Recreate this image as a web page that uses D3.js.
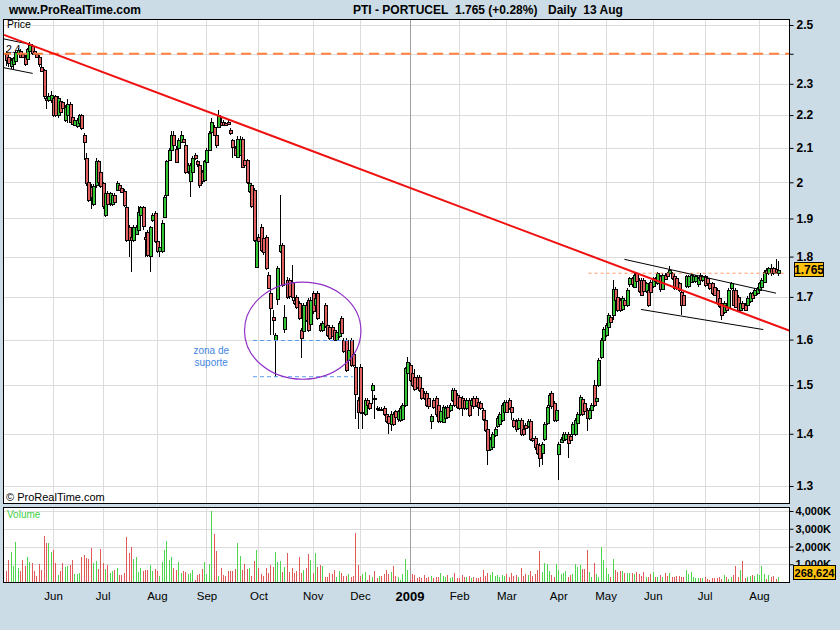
<!DOCTYPE html>
<html><head><meta charset="utf-8">
<script src="https://cdn.jsdelivr.net/npm/d3@7"></script>
<style>body{margin:0;background:#cbdce6;}svg{display:block;font-family:"Liberation Sans",Arial,sans-serif;}</style>
</head><body><svg id="c" width="840" height="630"></svg>
<script>
// Daily candles, PTI - PORTUCEL, 5 May 2008 .. 13 Aug 2009 (index = trading day)
const open=[
2.400,2.390,2.360,2.365,2.375,2.400,2.410,2.400,2.390,2.380,
2.410,2.425,2.410,2.400,2.390,2.357,2.345,2.255,2.248,2.250,
2.255,2.260,2.200,2.245,2.240,2.185,2.200,2.235,2.195,2.170,
2.165,2.175,2.200,2.140,2.070,2.000,1.988,1.940,1.990,2.060,
2.030,1.997,1.910,1.970,1.940,1.940,1.965,1.978,1.993,1.985,
1.975,1.932,1.878,1.850,1.843,1.860,1.870,1.909,1.930,1.850,
1.865,1.800,1.896,1.915,1.840,1.815,1.815,1.905,1.964,2.064,
2.094,2.139,2.098,2.100,2.120,2.128,2.109,2.032,2.005,2.030,
2.080,2.060,2.050,2.030,2.005,2.060,2.094,2.150,2.164,2.139,
2.164,2.180,2.180,2.175,2.180,2.155,2.124,2.100,2.075,2.080,
2.128,2.064,2.064,1.975,1.992,1.978,1.775,1.850,1.878,1.847,
1.850,1.754,1.710,1.653,1.599,1.693,1.815,1.830,1.625,1.741,
1.740,1.737,1.693,1.700,1.685,1.622,1.620,1.680,1.693,1.637,
1.709,1.681,1.709,1.634,1.622,1.680,1.634,1.630,1.630,1.622,
1.600,1.608,1.649,1.599,1.599,1.554,1.599,1.568,1.540,1.469,
1.540,1.440,1.440,1.469,1.462,1.490,1.472,1.452,1.450,1.450,
1.452,1.440,1.435,1.420,1.440,1.445,1.428,1.428,1.430,1.458,
1.527,1.543,1.525,1.518,1.518,1.518,1.493,1.483,1.483,1.472,
1.425,1.469,1.472,1.458,1.425,1.425,1.432,1.455,1.448,1.469,
1.490,1.479,1.475,1.472,1.469,1.452,1.469,1.458,1.472,1.472,
1.465,1.462,1.448,1.428,1.410,1.370,1.375,1.398,1.415,1.420,
1.428,1.445,1.465,1.469,1.455,1.428,1.425,1.412,1.428,1.410,
1.418,1.415,1.425,1.392,1.392,1.380,1.378,1.362,1.390,1.422,
1.458,1.483,1.462,1.428,1.360,1.385,1.388,1.390,1.400,1.395,
1.400,1.400,1.422,1.440,1.470,1.462,1.448,1.432,1.448,1.500,
1.465,1.500,1.560,1.600,1.610,1.630,1.652,1.657,1.720,1.700,
1.693,1.670,1.693,1.680,1.729,1.745,1.725,1.758,1.741,1.741,
1.741,1.713,1.717,1.737,1.725,1.745,1.733,1.750,1.720,1.754,
1.758,1.758,1.758,1.750,1.745,1.733,1.713,1.705,1.725,1.725,
1.737,1.737,1.737,1.729,1.754,1.741,1.750,1.745,1.733,1.733,
1.725,1.717,1.697,1.685,1.663,1.681,1.677,1.721,1.717,1.717,
1.700,1.669,1.685,1.681,1.681,1.690,1.709,1.705,1.709,1.717,
1.725,1.737,1.766,1.758,1.770,1.770,1.768,1.758];
const high=[
2.410,2.395,2.385,2.390,2.410,2.420,2.415,2.405,2.395,2.420,
2.440,2.435,2.415,2.405,2.395,2.370,2.350,2.262,2.270,2.275,
2.260,2.265,2.260,2.250,2.245,2.232,2.250,2.240,2.200,2.190,
2.190,2.205,2.205,2.145,2.085,2.005,1.995,1.995,2.070,2.065,
2.035,2.000,1.975,1.975,1.972,1.968,1.970,2.005,1.998,1.990,
1.980,1.935,1.882,1.855,1.882,1.882,1.935,1.935,1.935,1.865,
1.870,1.880,1.915,1.920,1.845,1.830,1.895,1.965,2.065,2.100,
2.150,2.150,2.105,2.130,2.150,2.135,2.115,2.055,2.055,2.075,
2.085,2.065,2.055,2.035,2.065,2.100,2.150,2.190,2.170,2.145,
2.215,2.190,2.185,2.180,2.185,2.160,2.128,2.105,2.135,2.135,
2.132,2.068,2.068,2.002,1.998,1.985,1.848,1.858,1.885,1.852,
1.855,1.760,1.733,1.669,1.615,1.776,1.964,1.835,1.680,1.748,
1.745,1.779,1.698,1.705,1.690,1.626,1.685,1.688,1.698,1.700,
1.715,1.702,1.714,1.638,1.642,1.685,1.638,1.634,1.634,1.626,
1.622,1.642,1.654,1.603,1.604,1.581,1.604,1.572,1.545,1.474,
1.545,1.446,1.472,1.473,1.466,1.505,1.480,1.456,1.454,1.454,
1.456,1.444,1.439,1.445,1.444,1.449,1.449,1.456,1.462,1.540,
1.560,1.547,1.530,1.535,1.522,1.522,1.497,1.487,1.487,1.476,
1.439,1.473,1.476,1.462,1.449,1.459,1.456,1.459,1.462,1.494,
1.494,1.483,1.479,1.476,1.473,1.473,1.473,1.473,1.476,1.476,
1.469,1.466,1.452,1.432,1.414,1.394,1.404,1.414,1.436,1.444,
1.462,1.469,1.469,1.473,1.459,1.432,1.429,1.432,1.432,1.414,
1.422,1.429,1.429,1.396,1.396,1.384,1.382,1.384,1.424,1.459,
1.483,1.487,1.466,1.452,1.384,1.394,1.404,1.404,1.404,1.399,
1.424,1.432,1.444,1.479,1.474,1.466,1.452,1.452,1.462,1.511,
1.476,1.559,1.603,1.629,1.638,1.661,1.656,1.741,1.724,1.704,
1.697,1.701,1.697,1.721,1.749,1.749,1.758,1.762,1.745,1.745,
1.745,1.737,1.721,1.741,1.749,1.749,1.762,1.754,1.758,1.758,
1.762,1.775,1.762,1.754,1.749,1.737,1.717,1.709,1.754,1.754,
1.758,1.754,1.754,1.749,1.758,1.754,1.754,1.749,1.737,1.737,
1.729,1.721,1.701,1.689,1.689,1.685,1.721,1.737,1.721,1.721,
1.704,1.689,1.689,1.685,1.701,1.713,1.713,1.721,1.725,1.737,
1.745,1.766,1.770,1.774,1.780,1.774,1.795,1.790];
const low=[
2.360,2.355,2.350,2.345,2.370,2.395,2.385,2.385,2.360,2.375,
2.405,2.395,2.395,2.385,2.357,2.340,2.250,2.220,2.240,2.237,
2.195,2.195,2.190,2.205,2.215,2.180,2.175,2.175,2.168,2.165,
2.160,2.170,2.155,2.064,1.990,1.945,1.925,1.935,1.985,1.995,
1.985,1.925,1.905,1.935,1.935,1.935,1.940,1.975,1.975,1.970,
1.930,1.838,1.800,1.760,1.838,1.855,1.861,1.905,1.870,1.800,
1.800,1.760,1.890,1.835,1.810,1.800,1.810,1.900,1.960,2.060,
2.090,2.100,2.055,2.095,2.115,2.115,2.025,2.025,1.960,2.025,
2.065,2.045,1.985,1.995,2.000,2.055,2.090,2.145,2.135,2.100,
2.160,2.165,2.165,2.165,2.170,2.140,2.070,2.075,2.070,2.075,
2.040,2.045,1.995,1.970,1.928,1.838,1.770,1.835,1.812,1.805,
1.765,1.718,1.611,1.611,1.518,1.680,1.810,1.724,1.615,1.695,
1.695,1.690,1.680,1.672,1.645,1.558,1.615,1.640,1.618,1.632,
1.660,1.676,1.644,1.618,1.618,1.626,1.606,1.600,1.606,1.596,
1.596,1.604,1.611,1.570,1.528,1.550,1.538,1.538,1.430,1.410,
1.440,1.410,1.436,1.455,1.448,1.460,1.430,1.446,1.446,1.445,
1.436,1.421,1.400,1.405,1.416,1.428,1.424,1.424,1.426,1.454,
1.523,1.506,1.495,1.488,1.492,1.486,1.468,1.468,1.454,1.451,
1.410,1.451,1.434,1.421,1.421,1.421,1.428,1.431,1.444,1.465,
1.454,1.451,1.448,1.435,1.448,1.448,1.434,1.454,1.451,1.454,
1.435,1.448,1.426,1.404,1.339,1.366,1.371,1.394,1.411,1.416,
1.424,1.441,1.441,1.448,1.428,1.411,1.404,1.408,1.396,1.396,
1.408,1.411,1.386,1.384,1.368,1.358,1.335,1.339,1.386,1.418,
1.454,1.451,1.424,1.424,1.311,1.381,1.384,1.386,1.352,1.384,
1.396,1.396,1.418,1.436,1.436,1.441,1.405,1.428,1.444,1.454,
1.461,1.496,1.556,1.596,1.606,1.626,1.636,1.645,1.689,1.665,
1.665,1.666,1.676,1.676,1.725,1.725,1.721,1.733,1.709,1.701,
1.709,1.709,1.675,1.709,1.721,1.733,1.729,1.713,1.716,1.741,
1.746,1.754,1.741,1.716,1.716,1.713,1.657,1.677,1.721,1.721,
1.733,1.733,1.733,1.725,1.737,1.737,1.725,1.729,1.717,1.705,
1.701,1.681,1.673,1.645,1.659,1.665,1.673,1.717,1.677,1.673,
1.665,1.665,1.669,1.666,1.677,1.686,1.693,1.701,1.705,1.713,
1.721,1.733,1.754,1.754,1.750,1.754,1.756,1.752];
const close=[
2.380,2.370,2.380,2.385,2.405,2.413,2.390,2.390,2.368,2.415,
2.430,2.400,2.400,2.390,2.368,2.345,2.259,2.250,2.260,2.265,
2.200,2.200,2.255,2.210,2.220,2.227,2.235,2.180,2.174,2.185,
2.185,2.200,2.160,2.120,1.997,1.950,1.960,1.990,2.060,2.000,
1.990,1.932,1.970,1.940,1.969,1.965,1.945,1.998,1.978,1.975,
1.936,1.843,1.843,1.843,1.878,1.878,1.918,1.930,1.878,1.845,
1.805,1.876,1.909,1.840,1.815,1.825,1.888,1.960,2.060,2.094,
2.139,2.109,2.060,2.124,2.140,2.120,2.030,2.050,2.050,2.070,
2.070,2.050,1.992,2.003,2.060,2.094,2.144,2.180,2.139,2.109,
2.200,2.170,2.170,2.170,2.175,2.145,2.104,2.080,2.128,2.128,
2.045,2.050,2.000,1.997,1.933,1.843,1.843,1.840,1.817,1.810,
1.770,1.723,1.673,1.645,1.611,1.770,1.830,1.729,1.652,1.700,
1.700,1.700,1.685,1.677,1.649,1.603,1.680,1.645,1.622,1.693,
1.665,1.697,1.649,1.622,1.638,1.630,1.611,1.605,1.610,1.600,
1.618,1.638,1.615,1.574,1.533,1.577,1.543,1.543,1.483,1.445,
1.445,1.443,1.469,1.458,1.452,1.500,1.470,1.450,1.450,1.449,
1.440,1.425,1.420,1.440,1.420,1.432,1.445,1.452,1.458,1.536,
1.550,1.511,1.500,1.493,1.497,1.490,1.472,1.472,1.458,1.455,
1.435,1.455,1.438,1.425,1.445,1.455,1.452,1.435,1.458,1.490,
1.458,1.455,1.452,1.452,1.452,1.469,1.438,1.469,1.455,1.458,
1.455,1.452,1.430,1.408,1.368,1.390,1.400,1.410,1.432,1.440,
1.458,1.465,1.445,1.452,1.445,1.415,1.408,1.428,1.400,1.400,
1.412,1.425,1.390,1.388,1.375,1.362,1.352,1.380,1.420,1.455,
1.479,1.455,1.428,1.448,1.380,1.390,1.400,1.400,1.382,1.388,
1.420,1.428,1.440,1.475,1.440,1.445,1.432,1.448,1.458,1.458,
1.472,1.555,1.599,1.625,1.634,1.657,1.640,1.720,1.693,1.669,
1.669,1.697,1.680,1.717,1.745,1.729,1.754,1.737,1.713,1.705,
1.713,1.733,1.681,1.713,1.745,1.737,1.758,1.717,1.754,1.745,
1.750,1.766,1.745,1.720,1.720,1.717,1.681,1.681,1.750,1.750,
1.754,1.750,1.750,1.745,1.741,1.750,1.729,1.733,1.721,1.709,
1.705,1.685,1.677,1.657,1.685,1.669,1.717,1.733,1.681,1.677,
1.669,1.685,1.673,1.670,1.697,1.709,1.697,1.717,1.721,1.733,
1.741,1.762,1.758,1.770,1.758,1.758,1.760,1.765];
// volume in thousands of shares
const volume=[
640,1243,1714,904,2279,810,621,1243,904,1394,
1130,1073,640,339,1017,678,2600,2200,2200,1714,
1827,1073,395,640,1073,866,904,960,1243,452,
452,508,1431,1506,1375,1318,1921,1073,1186,734,
1864,1073,734,960,508,640,678,791,395,395,
508,2540,1657,1977,1299,1412,584,810,640,678,
678,960,640,734,640,339,1130,1808,2316,1243,
1412,810,697,1130,508,621,584,452,508,678,
113,395,452,734,1130,452,1017,4011,2712,1751,
339,791,395,339,621,621,621,734,2203,1469,
678,1017,753,791,339,1186,1808,791,452,320,
791,508,960,847,1695,1130,1186,565,847,1639,
565,791,508,621,1412,508,678,791,1582,1243,
508,1639,847,960,904,282,282,508,452,678,
301,621,508,339,339,452,282,339,2768,960,
339,452,565,113,395,264,640,207,339,339,
452,678,452,565,904,339,282,113,452,1299,
678,113,452,395,226,300,250,380,200,280,
350,250,300,260,508,320,300,380,250,300,
508,220,250,420,300,260,350,220,300,250,
200,280,678,350,500,420,565,350,420,300,
380,320,450,282,500,350,420,300,790,330,
450,380,600,330,450,678,1751,560,1073,1017,
600,420,300,1017,678,450,520,620,280,400,
450,1017,850,960,720,730,1808,560,280,1073,
450,280,1977,1243,790,450,280,1300,680,560,
620,620,500,500,480,500,450,560,450,350,
560,280,300,450,560,300,300,420,300,480,
350,500,280,300,330,350,300,280,678,450,
560,300,200,220,220,220,300,150,120,200,
220,220,280,180,380,300,160,300,380,904,
300,650,1186,250,300,340,400,330,460,380,
904,460,180,400,260,340,180,269];
// month axis: label and index of first trading day
const monthLabels=["Jun","Jul","Aug","Sep","Oct","Nov","Dec","2009","Feb","Mar","Apr","May","Jun","Jul","Aug"];
const monthIdx=[20,41,64,85,107,130,150,171,192,212,234,254,274,296,319];
const priceTicks=[1.3,1.4,1.5,1.6,1.7,1.8,1.9,2.0,2.1,2.2,2.3,2.4,2.5];
const priceLabels=["1.3","1.4","1.5","1.6","1.7","1.8","1.9","2","2.1","2.2","2.3","","2.5"];
const volTicks=[1000,2000,3000,4000];
const volLabels=["1,000K","2,000K","3,000K","4,000K"];
const lastPrice=1.765, lastPriceText="1.765", lastVolText="268,624";
// drawn objects (index, price)
const trendLine=[[-0.76,2.465],[332.1,1.620]];
const resistance=2.4;
const prevLevel=[[246.8,1.758],[330.0,1.758]];
const channelTop=[[262.0,1.793],[326.2,1.709]];
const channelBottom=[[269.0,1.670],[320.8,1.623]];
const earlyTop=[[-0.76,2.451],[11.1,2.431]];
const earlyBottom=[[-0.76,2.353],[11.4,2.334]];
const supportHi=[[104.7,1.598],[147.0,1.598]];
const supportLo=[[104.7,1.518],[147.0,1.518]];
const ellipseBox={i0:101.1,i1:150.4,p0:1.5125,p1:1.736};
const noteAnchor={i:87,p:1.567};

const N=close.length;
const svg=d3.select("#c");
const L=3.5,R=789.5,PT=19.5,PB=503.5,VT=507.5,VB=582.5;
const x=d3.scaleLinear().domain([0,N-1]).range([5.8,777.9]);
const y=d3.scaleLog().domain([1.3,2.5]).range([486,25]);
const yv=d3.scaleLinear().domain([0,4000]).range([582,511]);

// panels
svg.append("rect").attr("x",L).attr("y",PT).attr("width",R-L).attr("height",PB-PT).attr("fill","#fff");
svg.append("rect").attr("x",L).attr("y",VT).attr("width",R-L).attr("height",VB-VT).attr("fill","#fff");
const defs=svg.append("defs");
defs.append("clipPath").attr("id","cp").append("rect").attr("x",L).attr("y",PT).attr("width",R-L).attr("height",PB-PT);
defs.append("clipPath").attr("id","cv").append("rect").attr("x",L).attr("y",VT).attr("width",R-L).attr("height",VB-VT);

const grid=svg.append("g").attr("shape-rendering","crispEdges");
priceTicks.forEach(p=>{grid.append("line").attr("x1",L).attr("x2",R).attr("y1",Math.round(y(p))+0.5).attr("y2",Math.round(y(p))+0.5).attr("stroke","#dcdcdc");});
volTicks.forEach(v=>{grid.append("line").attr("x1",L).attr("x2",R).attr("y1",Math.round(yv(v))+0.5).attr("y2",Math.round(yv(v))+0.5).attr("stroke","#dcdcdc");});
monthIdx.forEach((m,k)=>{
  const xx=Math.round(x(m))+0.5, col=monthLabels[k]==="2009"?"#a0a0a0":"#dcdcdc";
  grid.append("line").attr("x1",xx).attr("x2",xx).attr("y1",PT).attr("y2",PB).attr("stroke",col);
  grid.append("line").attr("x1",xx).attr("x2",xx).attr("y1",VT).attr("y2",VB).attr("stroke",col);
});

// texts inside
svg.append("text").attr("x",7).attr("y",28).attr("font-size",10.5).text("Price");
svg.append("text").attr("x",6).attr("y",53).attr("font-size",10.5).text("2.4");
svg.append("text").attr("x",6).attr("y",501).attr("font-size",11).text("\u00a9 ProRealTime.com");
svg.append("text").attr("x",7).attr("y",518).attr("font-size",10).attr("fill","#3fcf3f").text("Volume");

// candles
const up="#33c533", dn="#e06060";
const cg=svg.append("g").attr("clip-path","url(#cp)").attr("shape-rendering","crispEdges");
const idx=d3.range(N);
cg.selectAll("line.w").data(idx).join("line")
  .attr("x1",i=>Math.round(x(i))+0.5).attr("x2",i=>Math.round(x(i))+0.5)
  .attr("y1",i=>y(high[i])).attr("y2",i=>y(low[i])).attr("stroke","#000");
const bodyTop=i=>Math.round(y(Math.max(open[i],close[i])));
const bodyH=i=>Math.round(Math.abs(y(open[i])-y(close[i])));
cg.selectAll("g.c").data(idx).join("g").each(function(i){
  const g=d3.select(this), xc=Math.round(x(i)), h=bodyH(i);
  g.append("rect").attr("x",xc-1).attr("width",4).attr("y",bodyTop(i)).attr("height",Math.max(2,h+1)).attr("fill","#000");
  if(h>=2) g.append("rect").attr("x",xc).attr("width",2).attr("y",bodyTop(i)+1).attr("height",h-1).attr("fill",close[i]>=open[i]?up:dn);
});

// volume
const vg=svg.append("g").attr("clip-path","url(#cv)").attr("shape-rendering","crispEdges");
vg.selectAll("rect").data(idx).join("rect")
  .attr("x",i=>Math.round(x(i))).attr("width",1)
  .attr("y",i=>yv(volume[i])).attr("height",i=>yv(0)-yv(volume[i]))
  .attr("fill",i=>close[i]>=open[i]?"#4fd64f":"#e05a5a");

// annotations
const ag=svg.append("g").attr("clip-path","url(#cp)");
const ln=d3.line().x(d=>x(d[0])).y(d=>y(d[1]));
ag.append("path").attr("d",ln([[ -2,resistance],[N+6,resistance]])).attr("stroke","#ff7f3f").attr("stroke-width",2).attr("stroke-dasharray","10,6").attr("fill","none");
ag.append("path").attr("d",ln(prevLevel)).attr("stroke","#ff9a66").attr("stroke-width",1).attr("stroke-dasharray","3,3").attr("fill","none");
[earlyTop,earlyBottom,channelTop,channelBottom].forEach(s=>ag.append("path").attr("d",ln(s)).attr("stroke","#000").attr("stroke-width",1).attr("fill","none"));
[supportHi,supportLo].forEach(s=>ag.append("path").attr("d",ln(s)).attr("stroke","#5b9bf0").attr("stroke-width",1).attr("stroke-dasharray","4,3").attr("fill","none"));
ag.append("path").attr("d",ln(trendLine)).attr("stroke","#f01010").attr("stroke-width",2).attr("fill","none");
const ex0=x(ellipseBox.i0),ex1=x(ellipseBox.i1),ey0=y(ellipseBox.p1),ey1=y(ellipseBox.p0);
ag.append("ellipse").attr("cx",(ex0+ex1)/2).attr("cy",(ey0+ey1)/2).attr("rx",(ex1-ex0)/2).attr("ry",(ey1-ey0)/2).attr("fill","none").attr("stroke","#9030c8").attr("stroke-width",1.2);
ag.append("text").attr("x",x(noteAnchor.i)).attr("y",y(noteAnchor.p)).attr("text-anchor","middle").attr("font-size",10).attr("fill","#3f86e0").text("zona de");
ag.append("text").attr("x",x(noteAnchor.i)).attr("y",y(noteAnchor.p)+11.5).attr("text-anchor","middle").attr("font-size",10).attr("fill","#3f86e0").text("suporte");

// borders
svg.append("rect").attr("x",L).attr("y",PT).attr("width",R-L).attr("height",PB-PT).attr("fill","none").attr("stroke","#000");
svg.append("rect").attr("x",L).attr("y",VT).attr("width",R-L).attr("height",VB-VT).attr("fill","none").attr("stroke","#000");

// right axes
const ya=d3.axisRight(y).tickValues(priceTicks).tickFormat((d,k)=>priceLabels[k]).tickSize(4).tickPadding(3);
const yg=svg.append("g").attr("transform",`translate(${R},0)`).call(ya);
yg.select(".domain").remove();
yg.selectAll("text").attr("font-size",12).attr("font-weight","bold").attr("fill","#000").attr("font-family","Liberation Sans, Arial");
const va=d3.axisRight(yv).tickValues(volTicks).tickFormat((d,k)=>volLabels[k]).tickSize(4).tickPadding(2);
const vga=svg.append("g").attr("transform",`translate(${R},0)`).call(va);
vga.select(".domain").remove();
vga.selectAll("text").attr("font-size",11).attr("font-weight","bold").attr("fill","#000").attr("font-family","Liberation Sans, Arial");

// bottom month axis
const xa=d3.axisBottom(x).tickValues(monthIdx).tickFormat((d,k)=>monthLabels[k]).tickSize(0).tickPadding(9);
const xg=svg.append("g").attr("transform",`translate(0,${VB})`).call(xa);
xg.select(".domain").remove();
xg.selectAll("text").attr("fill","#000").attr("font-family","Liberation Sans, Arial")
  .attr("font-weight",(d,k)=>monthLabels[k]==="2009"?"bold":"normal").attr("font-size",(d,k)=>monthLabels[k]==="2009"?13:11.5);

// value boxes
const py=y(lastPrice);
svg.append("rect").attr("x",794.5).attr("y",Math.round(py)-7.5).attr("width",29).attr("height",14).attr("fill","#ffc20e").attr("stroke","#000");
svg.append("text").attr("x",809).attr("y",Math.round(py)+4).attr("text-anchor","middle").attr("font-size",12).attr("font-weight","bold").text(lastPriceText);
svg.append("rect").attr("x",793.5).attr("y",565.5).attr("width",42).attr("height",14).attr("fill","#ffc20e").attr("stroke","#000");
svg.append("text").attr("x",814.5).attr("y",577).attr("text-anchor","middle").attr("font-size",11).attr("font-weight","bold").text(lastVolText);

// header
const hdr=[["www.ProRealTime.com",9],["PTI - PORTUCEL",353],["1.765 (+0.28%)",455],["Daily  13 Aug",548]];
hdr.forEach(h=>svg.append("text").attr("x",h[1]).attr("y",14).attr("font-size",12).attr("font-weight","bold").attr("xml:space","preserve").style("white-space","pre").text(h[0]));
</script></body></html>
